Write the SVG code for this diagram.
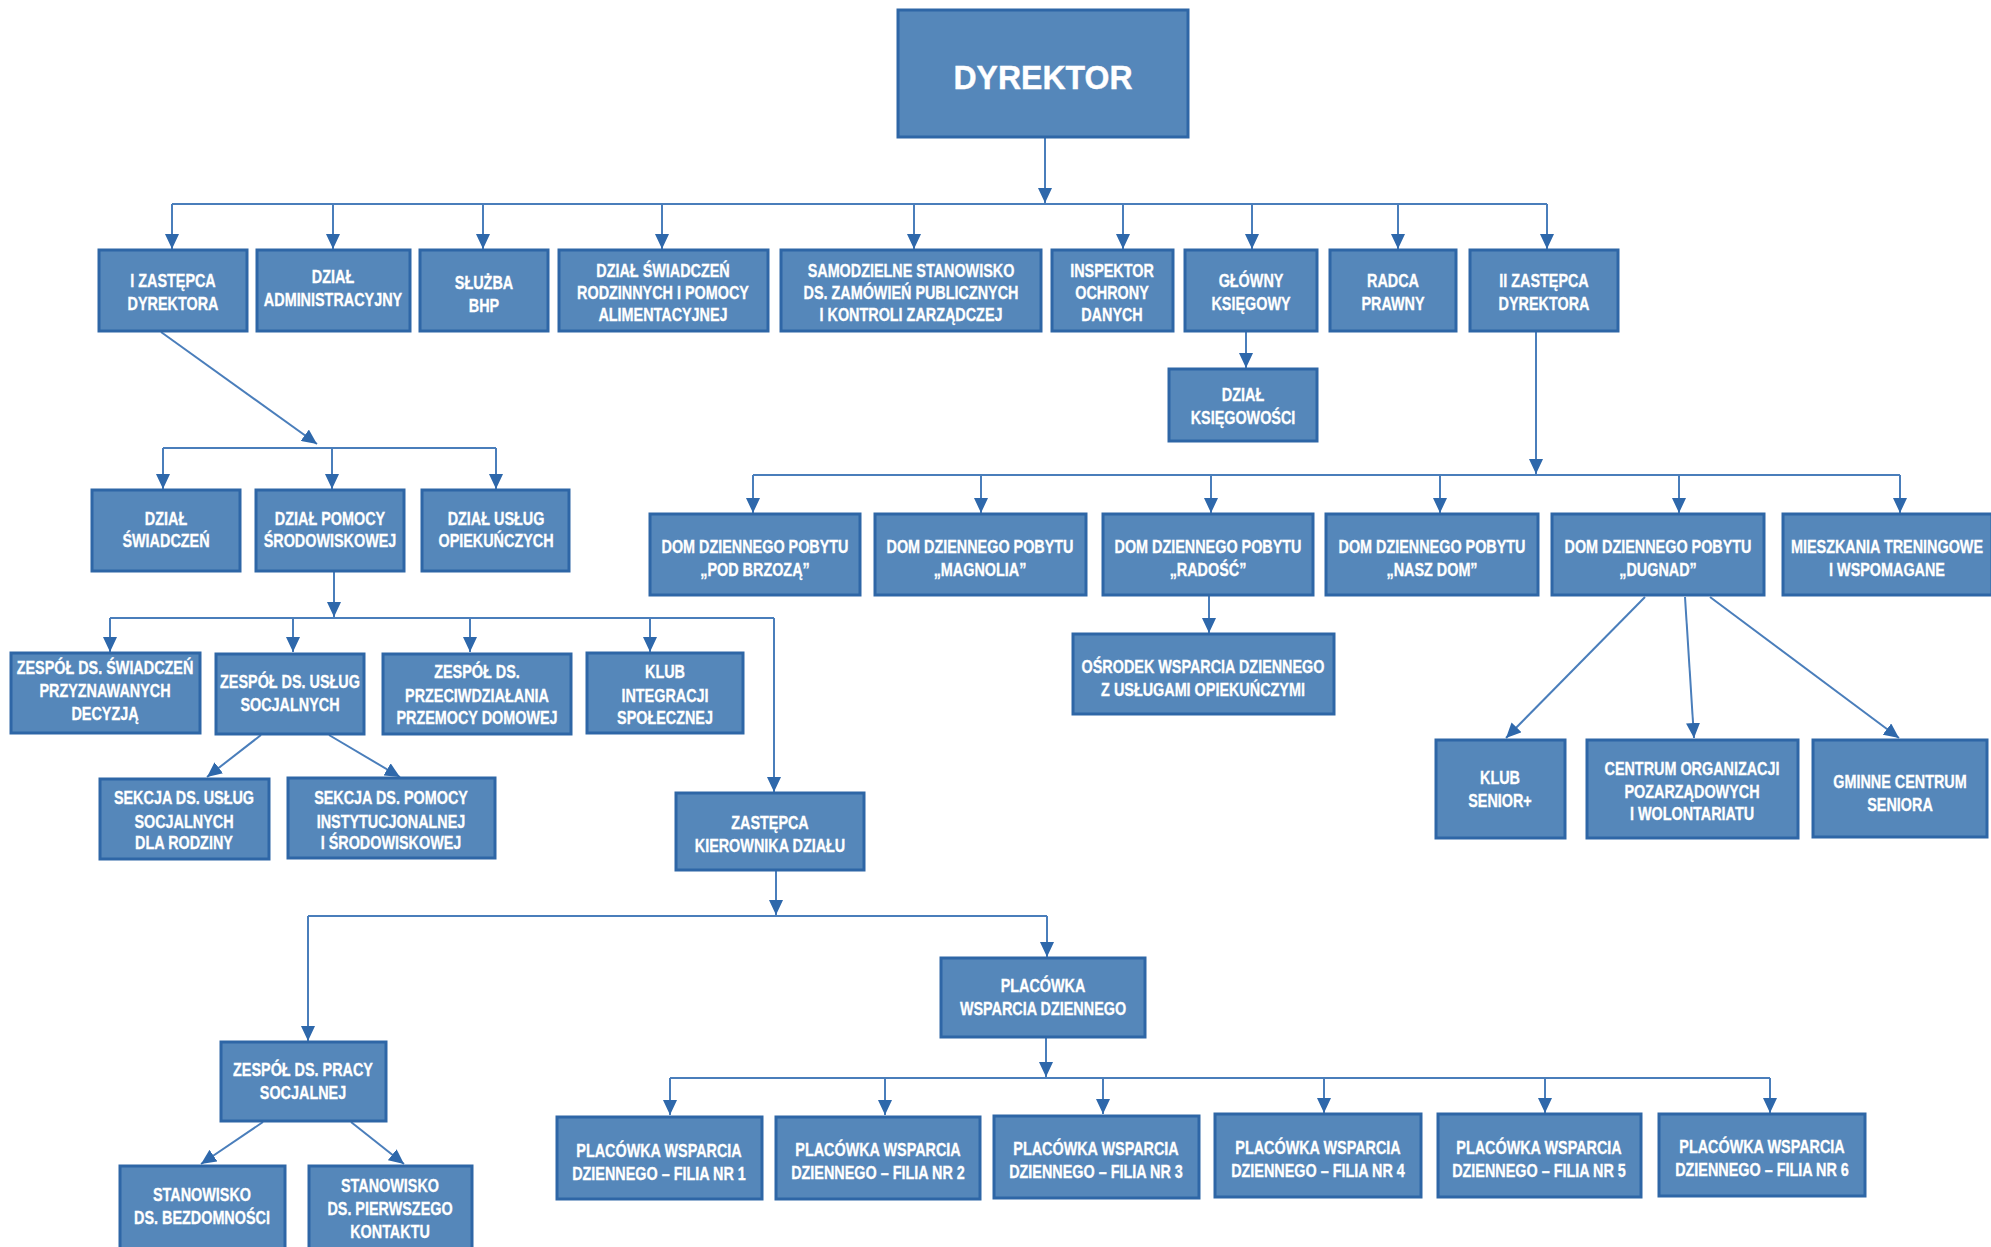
<svg xmlns="http://www.w3.org/2000/svg" width="1991" height="1247" viewBox="0 0 1991 1247">
<style>
.box{fill:#5587BA;stroke:#2E66A6;stroke-width:3}
.t{font-family:"Liberation Sans",Arial,sans-serif;font-weight:bold;font-size:18px;fill:#fff;stroke:#fff;stroke-width:0.3;text-anchor:middle}
.big{font-size:33px;stroke-width:0.4}
.c{fill:none;stroke:#4A7EBB;stroke-width:2}
.a{marker-end:url(#arr)}
</style>
<defs>
<marker id="arr" markerUnits="userSpaceOnUse" markerWidth="16" markerHeight="14" refX="15" refY="7" orient="auto">
<path d="M0,0 L15,7 L0,14 z" fill="#2E68AB"/>
</marker>
</defs>
<rect width="1991" height="1247" fill="#fff"/>
<g id="connectors">
<path class="c a" d="M1045,137 V203"/>
<path class="c" d="M172,204 H1547"/>
<path class="c a" d="M172,204 V249"/>
<path class="c a" d="M333,204 V249"/>
<path class="c a" d="M483,204 V249"/>
<path class="c a" d="M662,204 V249"/>
<path class="c a" d="M914,204 V249"/>
<path class="c a" d="M1123,204 V249"/>
<path class="c a" d="M1252,204 V249"/>
<path class="c a" d="M1398,204 V249"/>
<path class="c a" d="M1547,204 V249"/>
<path class="c a" d="M1246,332 V368"/>
<path class="c a" d="M161,332 L317,444"/>
<path class="c" d="M163,448 H496"/>
<path class="c a" d="M163,448 V489"/>
<path class="c a" d="M332,448 V489"/>
<path class="c a" d="M496,448 V489"/>
<path class="c a" d="M334,572 V617"/>
<path class="c" d="M110,618 H774"/>
<path class="c a" d="M110,618 V652"/>
<path class="c a" d="M293,618 V652"/>
<path class="c a" d="M470,618 V652"/>
<path class="c a" d="M650,618 V652"/>
<path class="c a" d="M774,618 V792"/>
<path class="c a" d="M261,735 L207,777"/>
<path class="c a" d="M329,735 L400,777"/>
<path class="c a" d="M776,871 V915"/>
<path class="c" d="M308,916 H1047"/>
<path class="c a" d="M308,916 V1041"/>
<path class="c a" d="M1047,916 V957"/>
<path class="c a" d="M263,1122 L201,1164"/>
<path class="c a" d="M351,1122 L404,1164"/>
<path class="c a" d="M1046,1038 V1077"/>
<path class="c" d="M670,1078 H1770"/>
<path class="c a" d="M670,1078 V1115"/>
<path class="c a" d="M885,1078 V1115"/>
<path class="c a" d="M1103,1078 V1114"/>
<path class="c a" d="M1324,1078 V1113"/>
<path class="c a" d="M1545,1078 V1113"/>
<path class="c a" d="M1770,1078 V1113"/>
<path class="c a" d="M1536,332 V474"/>
<path class="c" d="M753,475 H1900"/>
<path class="c a" d="M753,475 V513"/>
<path class="c a" d="M981,475 V513"/>
<path class="c a" d="M1211,475 V513"/>
<path class="c a" d="M1440,475 V513"/>
<path class="c a" d="M1679,475 V513"/>
<path class="c a" d="M1900,475 V513"/>
<path class="c a" d="M1209,596 V633"/>
<path class="c a" d="M1645,597 L1506,738"/>
<path class="c a" d="M1685,597 L1694,738"/>
<path class="c a" d="M1710,597 L1899,738"/>
</g>
<g id="n-dyrektor"><rect class="box" x="898" y="10" width="290" height="127"/><text class="t big" transform="translate(1043,0) scale(.97,1)"><tspan x="0" y="89">DYREKTOR</tspan></text></g>
<g id="n-zastepca1"><rect class="box" x="99" y="250" width="148" height="81"/><text class="t" transform="translate(173,0) scale(.8,1)"><tspan x="0" y="287">I ZASTĘPCA</tspan><tspan x="0" y="310">DYREKTORA</tspan></text></g>
<g id="n-administracyjny"><rect class="box" x="257" y="250" width="153" height="81"/><text class="t" transform="translate(333,0) scale(.8,1)"><tspan x="0" y="283">DZIAŁ</tspan><tspan x="0" y="306">ADMINISTRACYJNY</tspan></text></g>
<g id="n-bhp"><rect class="box" x="420" y="250" width="128" height="81"/><text class="t" transform="translate(484,0) scale(.8,1)"><tspan x="0" y="289">SŁUŻBA</tspan><tspan x="0" y="312">BHP</tspan></text></g>
<g id="n-swiadczenia-rodzinne"><rect class="box" x="559" y="250" width="209" height="81"/><text class="t" transform="translate(663,0) scale(.8,1)"><tspan x="0" y="277">DZIAŁ ŚWIADCZEŃ</tspan><tspan x="0" y="299">RODZINNYCH I POMOCY</tspan><tspan x="0" y="321">ALIMENTACYJNEJ</tspan></text></g>
<g id="n-samodzielne"><rect class="box" x="781" y="250" width="260" height="81"/><text class="t" transform="translate(911,0) scale(.8,1)"><tspan x="0" y="277">SAMODZIELNE STANOWISKO</tspan><tspan x="0" y="299">DS. ZAMÓWIEŃ PUBLICZNYCH</tspan><tspan x="0" y="321">I KONTROLI ZARZĄDCZEJ</tspan></text></g>
<g id="n-inspektor"><rect class="box" x="1052" y="250" width="121" height="81"/><text class="t" transform="translate(1112,0) scale(.8,1)"><tspan x="0" y="277">INSPEKTOR</tspan><tspan x="0" y="299">OCHRONY</tspan><tspan x="0" y="321">DANYCH</tspan></text></g>
<g id="n-glowny"><rect class="box" x="1185" y="250" width="132" height="81"/><text class="t" transform="translate(1251,0) scale(.8,1)"><tspan x="0" y="287">GŁÓWNY</tspan><tspan x="0" y="310">KSIĘGOWY</tspan></text></g>
<g id="n-radca"><rect class="box" x="1330" y="250" width="126" height="81"/><text class="t" transform="translate(1393,0) scale(.8,1)"><tspan x="0" y="287">RADCA</tspan><tspan x="0" y="310">PRAWNY</tspan></text></g>
<g id="n-zastepca2"><rect class="box" x="1470" y="250" width="148" height="81"/><text class="t" transform="translate(1544,0) scale(.8,1)"><tspan x="0" y="287">II ZASTĘPCA</tspan><tspan x="0" y="310">DYREKTORA</tspan></text></g>
<g id="n-ksiegowosc"><rect class="box" x="1169" y="369" width="148" height="72"/><text class="t" transform="translate(1243,0) scale(.8,1)"><tspan x="0" y="401">DZIAŁ</tspan><tspan x="0" y="424">KSIĘGOWOŚCI</tspan></text></g>
<g id="n-dzial-swiadczen"><rect class="box" x="92" y="490" width="148" height="81"/><text class="t" transform="translate(166,0) scale(.8,1)"><tspan x="0" y="525">DZIAŁ</tspan><tspan x="0" y="547">ŚWIADCZEŃ</tspan></text></g>
<g id="n-pomocy-srodowiskowej"><rect class="box" x="256" y="490" width="148" height="81"/><text class="t" transform="translate(330,0) scale(.8,1)"><tspan x="0" y="525">DZIAŁ POMOCY</tspan><tspan x="0" y="547">ŚRODOWISKOWEJ</tspan></text></g>
<g id="n-uslug-opiekunczych"><rect class="box" x="422" y="490" width="147" height="81"/><text class="t" transform="translate(496,0) scale(.8,1)"><tspan x="0" y="525">DZIAŁ USŁUG</tspan><tspan x="0" y="547">OPIEKUŃCZYCH</tspan></text></g>
<g id="n-zespol-swiadczen"><rect class="box" x="11" y="653" width="189" height="80"/><text class="t" transform="translate(105,0) scale(.8,1)"><tspan x="0" y="674">ZESPÓŁ DS. ŚWIADCZEŃ</tspan><tspan x="0" y="697">PRZYZNAWANYCH</tspan><tspan x="0" y="720">DECYZJĄ</tspan></text></g>
<g id="n-zespol-uslug"><rect class="box" x="216" y="654" width="148" height="80"/><text class="t" transform="translate(290,0) scale(.8,1)"><tspan x="0" y="688">ZESPÓŁ DS. USŁUG</tspan><tspan x="0" y="711">SOCJALNYCH</tspan></text></g>
<g id="n-przemoc"><rect class="box" x="383" y="654" width="188" height="80"/><text class="t" transform="translate(477,0) scale(.8,1)"><tspan x="0" y="678">ZESPÓŁ DS.</tspan><tspan x="0" y="702">PRZECIWDZIAŁANIA</tspan><tspan x="0" y="724">PRZEMOCY DOMOWEJ</tspan></text></g>
<g id="n-klub-integracji"><rect class="box" x="587" y="653" width="156" height="80"/><text class="t" transform="translate(665,0) scale(.8,1)"><tspan x="0" y="678">KLUB</tspan><tspan x="0" y="702">INTEGRACJI</tspan><tspan x="0" y="724">SPOŁECZNEJ</tspan></text></g>
<g id="n-sekcja-rodziny"><rect class="box" x="100" y="779" width="169" height="80"/><text class="t" transform="translate(184,0) scale(.8,1)"><tspan x="0" y="804">SEKCJA DS. USŁUG</tspan><tspan x="0" y="828">SOCJALNYCH</tspan><tspan x="0" y="849">DLA RODZINY</tspan></text></g>
<g id="n-sekcja-pomocy"><rect class="box" x="288" y="778" width="207" height="80"/><text class="t" transform="translate(391,0) scale(.8,1)"><tspan x="0" y="804">SEKCJA DS. POMOCY</tspan><tspan x="0" y="828">INSTYTUCJONALNEJ</tspan><tspan x="0" y="849">I ŚRODOWISKOWEJ</tspan></text></g>
<g id="n-zastepca-kierownika"><rect class="box" x="676" y="793" width="188" height="77"/><text class="t" transform="translate(770,0) scale(.8,1)"><tspan x="0" y="829">ZASTĘPCA</tspan><tspan x="0" y="852">KIEROWNIKA DZIAŁU</tspan></text></g>
<g id="n-praca-socjalna"><rect class="box" x="221" y="1042" width="165" height="79"/><text class="t" transform="translate(303,0) scale(.8,1)"><tspan x="0" y="1076">ZESPÓŁ DS. PRACY</tspan><tspan x="0" y="1099">SOCJALNEJ</tspan></text></g>
<g id="n-bezdomnosc"><rect class="box" x="120" y="1166" width="165" height="84"/><text class="t" transform="translate(202,0) scale(.8,1)"><tspan x="0" y="1201">STANOWISKO</tspan><tspan x="0" y="1224">DS. BEZDOMNOŚCI</tspan></text></g>
<g id="n-pierwszy-kontakt"><rect class="box" x="309" y="1166" width="163" height="84"/><text class="t" transform="translate(390,0) scale(.8,1)"><tspan x="0" y="1192">STANOWISKO</tspan><tspan x="0" y="1215">DS. PIERWSZEGO</tspan><tspan x="0" y="1238">KONTAKTU</tspan></text></g>
<g id="n-placowka"><rect class="box" x="941" y="958" width="204" height="79"/><text class="t" transform="translate(1043,0) scale(.8,1)"><tspan x="0" y="992">PLACÓWKA</tspan><tspan x="0" y="1015">WSPARCIA DZIENNEGO</tspan></text></g>
<g id="n-filia1"><rect class="box" x="557" y="1117" width="205" height="82"/><text class="t" transform="translate(659,0) scale(.8,1)"><tspan x="0" y="1157">PLACÓWKA WSPARCIA</tspan><tspan x="0" y="1180">DZIENNEGO – FILIA NR 1</tspan></text></g>
<g id="n-filia2"><rect class="box" x="776" y="1117" width="204" height="82"/><text class="t" transform="translate(878,0) scale(.8,1)"><tspan x="0" y="1156">PLACÓWKA WSPARCIA</tspan><tspan x="0" y="1179">DZIENNEGO – FILIA NR 2</tspan></text></g>
<g id="n-filia3"><rect class="box" x="994" y="1116" width="205" height="82"/><text class="t" transform="translate(1096,0) scale(.8,1)"><tspan x="0" y="1155">PLACÓWKA WSPARCIA</tspan><tspan x="0" y="1178">DZIENNEGO – FILIA NR 3</tspan></text></g>
<g id="n-filia4"><rect class="box" x="1215" y="1114" width="206" height="83"/><text class="t" transform="translate(1318,0) scale(.8,1)"><tspan x="0" y="1154">PLACÓWKA WSPARCIA</tspan><tspan x="0" y="1177">DZIENNEGO – FILIA NR 4</tspan></text></g>
<g id="n-filia5"><rect class="box" x="1438" y="1114" width="203" height="83"/><text class="t" transform="translate(1539,0) scale(.8,1)"><tspan x="0" y="1154">PLACÓWKA WSPARCIA</tspan><tspan x="0" y="1177">DZIENNEGO – FILIA NR 5</tspan></text></g>
<g id="n-filia6"><rect class="box" x="1659" y="1114" width="206" height="82"/><text class="t" transform="translate(1762,0) scale(.8,1)"><tspan x="0" y="1153">PLACÓWKA WSPARCIA</tspan><tspan x="0" y="1176">DZIENNEGO – FILIA NR 6</tspan></text></g>
<g id="n-pod-brzoza"><rect class="box" x="650" y="514" width="210" height="81"/><text class="t" transform="translate(755,0) scale(.8,1)"><tspan x="0" y="553">DOM DZIENNEGO POBYTU</tspan><tspan x="0" y="576">„POD BRZOZĄ”</tspan></text></g>
<g id="n-magnolia"><rect class="box" x="875" y="514" width="211" height="81"/><text class="t" transform="translate(980,0) scale(.8,1)"><tspan x="0" y="553">DOM DZIENNEGO POBYTU</tspan><tspan x="0" y="576">„MAGNOLIA”</tspan></text></g>
<g id="n-radosc"><rect class="box" x="1103" y="514" width="210" height="81"/><text class="t" transform="translate(1208,0) scale(.8,1)"><tspan x="0" y="553">DOM DZIENNEGO POBYTU</tspan><tspan x="0" y="576">„RADOŚĆ”</tspan></text></g>
<g id="n-nasz-dom"><rect class="box" x="1326" y="514" width="212" height="81"/><text class="t" transform="translate(1432,0) scale(.8,1)"><tspan x="0" y="553">DOM DZIENNEGO POBYTU</tspan><tspan x="0" y="576">„NASZ DOM”</tspan></text></g>
<g id="n-dugnad"><rect class="box" x="1552" y="514" width="212" height="81"/><text class="t" transform="translate(1658,0) scale(.8,1)"><tspan x="0" y="553">DOM DZIENNEGO POBYTU</tspan><tspan x="0" y="576">„DUGNAD”</tspan></text></g>
<g id="n-mieszkania"><rect class="box" x="1783" y="514" width="209" height="81"/><text class="t" transform="translate(1887,0) scale(.8,1)"><tspan x="0" y="553">MIESZKANIA TRENINGOWE</tspan><tspan x="0" y="576">I WSPOMAGANE</tspan></text></g>
<g id="n-osrodek"><rect class="box" x="1073" y="634" width="261" height="80"/><text class="t" transform="translate(1203,0) scale(.8,1)"><tspan x="0" y="673">OŚRODEK WSPARCIA DZIENNEGO</tspan><tspan x="0" y="696">Z USŁUGAMI OPIEKUŃCZYMI</tspan></text></g>
<g id="n-klub-senior"><rect class="box" x="1436" y="740" width="129" height="98"/><text class="t" transform="translate(1500,0) scale(.8,1)"><tspan x="0" y="784">KLUB</tspan><tspan x="0" y="807">SENIOR+</tspan></text></g>
<g id="n-centrum-org"><rect class="box" x="1587" y="740" width="211" height="98"/><text class="t" transform="translate(1692,0) scale(.8,1)"><tspan x="0" y="775">CENTRUM ORGANIZACJI</tspan><tspan x="0" y="798">POZARZĄDOWYCH</tspan><tspan x="0" y="820">I WOLONTARIATU</tspan></text></g>
<g id="n-gminne"><rect class="box" x="1813" y="740" width="174" height="97"/><text class="t" transform="translate(1900,0) scale(.8,1)"><tspan x="0" y="788">GMINNE CENTRUM</tspan><tspan x="0" y="811">SENIORA</tspan></text></g>
</svg>
